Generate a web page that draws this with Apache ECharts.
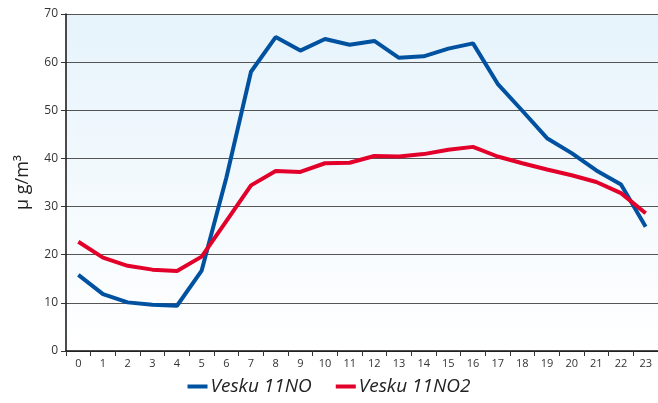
<!DOCTYPE html>
<html>
<head>
<meta charset="utf-8">
<script src="https://cdn.jsdelivr.net/npm/echarts@6/dist/echarts.min.js"></script>
<style>html,body{margin:0;padding:0;background:#fff}#c{width:658px;height:403px}</style>
</head>
<body>
<div id="c"></div>
<script>
const hours = ['0','1','2','3','4','5','6','7','8','9','10','11','12','13','14','15','16','17','18','19','20','21','22','23'];
const seriesNames = ['Vesku 11NO', 'Vesku 11NO2'];
const noValues = [15.8, 11.8, 10.1, 9.6, 9.4, 16.7, 36, 58.0, 65.2, 62.4, 64.8, 63.6, 64.4, 60.9, 61.2, 62.8, 63.9, 55.5, 49.9, 44.2, 41.1, 37.5, 34.6, 25.8];
const no2Values = [22.7, 19.4, 17.7, 16.9, 16.6, 19.6, 27.0, 34.4, 37.4, 37.2, 39.0, 39.1, 40.5, 40.4, 40.9, 41.8, 42.4, 40.4, 39.0, 37.7, 36.5, 35.1, 32.8, 28.6];
const yTicks = [0, 10, 20, 30, 40, 50, 60, 70];
const yAxisName = 'μ g/m³';

const chart = echarts.init(document.getElementById('c'), null, {renderer: 'canvas'});
chart.setOption({
  animation: false,
  textStyle: {fontFamily: 'Open Sans'},
  grid: {
    left: 66, right: 0, top: 14, bottom: 52,
    show: true, borderWidth: 0,
    backgroundColor: new echarts.graphic.LinearGradient(0, 0, 0, 1, [
      {offset: 0, color: '#e6f3fb'},
      {offset: 1, color: '#ffffff'}
    ])
  },
  legend: {
    bottom: 2, left: 'center',
    itemWidth: 20, itemHeight: 4, itemGap: 24,
    icon: 'rect',
    textStyle: {fontSize: 19, fontStyle: 'italic', color: '#222', fontFamily: 'Open Sans', padding: [0, 0, 0, -2]},
    data: seriesNames
  },
  xAxis: {
    type: 'category',
    data: hours,
    boundaryGap: true,
    axisLine: {lineStyle: {color: '#111', width: 1.5}},
    axisTick: {show: true, length: 5, lineStyle: {color: '#333'}},
    axisLabel: {fontSize: 11, color: '#333', margin: 7, interval: 0}
  },
  yAxis: {
    type: 'value',
    min: yTicks[0], max: yTicks[yTicks.length - 1], interval: 10,
    name: yAxisName,
    nameLocation: 'middle',
    nameGap: 34,
    nameRotate: 90,
    nameTextStyle: {fontSize: 18, color: '#222'},
    axisLine: {show: true, lineStyle: {color: '#111', width: 1.5}},
    axisTick: {show: true, length: 5, lineStyle: {color: '#333'}},
    axisLabel: {fontSize: 12, color: '#333', margin: 8},
    splitLine: {lineStyle: {color: '#555', width: 1}}
  },
  series: [
    {
      name: seriesNames[0], type: 'line', data: noValues,
      symbol: 'none', color: '#0052a1',
      lineStyle: {width: 4, color: '#0052a1'}
    },
    {
      name: seriesNames[1], type: 'line', data: no2Values,
      symbol: 'none', color: '#e2002a',
      lineStyle: {width: 4, color: '#e2002a'}
    }
  ]
});
</script>
</body>
</html>
